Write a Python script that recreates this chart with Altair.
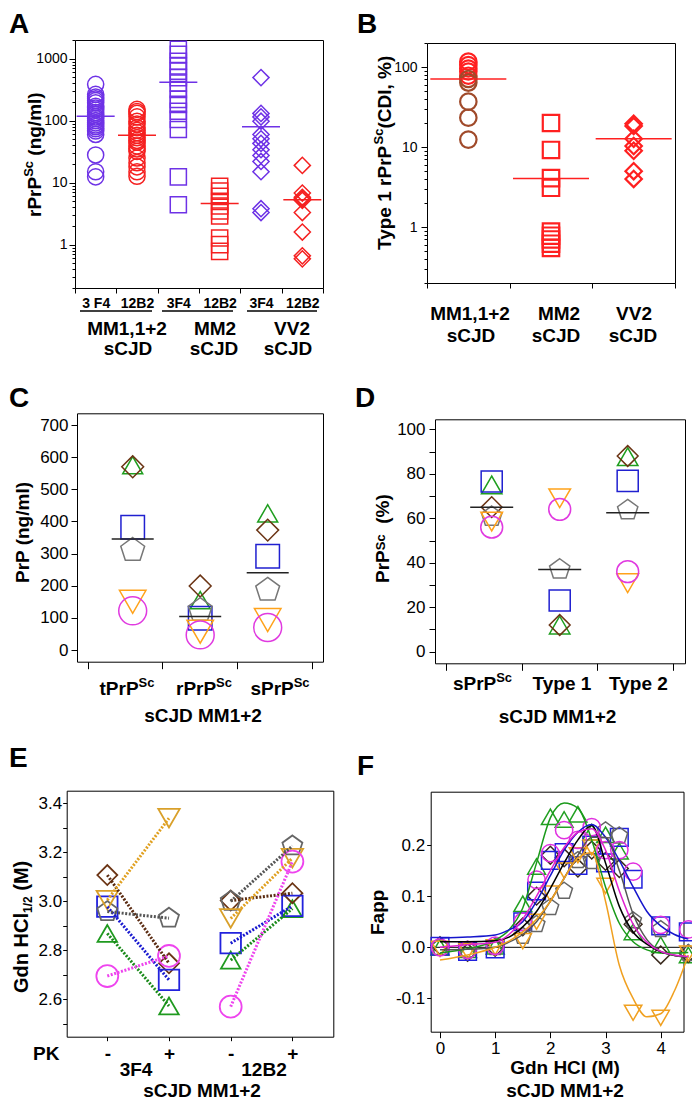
import altair as alt
import pandas as pd

# ---------------- data ----------------
# Panel A : rPrPSc (ng/ml), log scale
a_groups = ["MM1,1+2", "MM2", "VV2"]
a_antibodies = ["3F4", "12B2"]
a_tick_labels = ["3 F4", "12B2", "3F4", "12B2", "3F4", "12B2"]
a_mm1_3f4 = [385, 265, 240, 226, 210, 194, 171, 160, 148, 135, 126, 115, 108, 100, 92, 85, 80, 74, 68, 60, 28, 15, 12.4]
a_mm1_12b2 = [152, 140, 131, 115, 98, 88, 77, 70, 64, 58, 53, 48, 45, 39, 35, 32, 25, 21, 18, 15, 12.7]
a_mm2_3f4 = [1410, 1170, 910, 760, 630, 495, 405, 318, 220, 183, 142, 105, 72, 12.4, 4.4]
a_mm2_12b2 = [8.7, 7.3, 6.0, 5.0, 4.2, 3.5, 2.9, 1.28, 1.0, 0.78]
a_vv2_3f4 = [495, 131, 115, 98, 60, 51, 43, 34, 27.5, 22, 15, 3.8, 3.3]
a_vv2_12b2 = [19, 6.8, 5.8, 5.5, 5.2, 3.3, 1.6, 0.66, 0.59]
a_medians = [118, 58, 418, 4.6, 80, 5.3]

# Panel B : Type 1 rPrPSc (CDI, %), log scale
b_groups = ["MM1,1+2", "MM2", "VV2"]
b_mm1 = [117, 106, 96, 88, 78, 71, 64, 37, 23.3, 12.4]
b_mm2 = [20, 9.2, 4.1, 3.1, 0.88, 0.78, 0.7, 0.62, 0.55]
b_vv2 = [19.6, 18.3, 12.7, 10.3, 9.0, 5.0, 4.0]
b_medians = [71, 4.06, 12.7]

# six MM1+2 samples (panels C-F)
samples = ["s1", "s2", "s3", "s4", "s5", "s6"]

# Panel C : PrP (ng/ml)
c_cats = ["tPrP", "rPrP", "sPrP"]
c_t = [575, 570, 382, 311, 150, 122]
c_r = [155, 199, 99, 124, 57, 47]
c_s = [425, 373, 292, 187, 93, 70]
c_means = [345, 104, 240]

# Panel D : PrPSc (%)
d_cats = ["sPrP", "Type 1", "Type 2"]
d_s = [75, 65, 76.5, 60.7, 58.5, 56]
d_t1 = [12, 12, 23, 37, 69, 64]
d_t2 = [87.7, 88, 76.8, 63.7, 30.8, 36]
d_means = [65, 37, 62.5]

# Panel E : Gdn HCl 1/2 (M)
e_antibodies = ["3F4", "12B2"]
e_minus_3f4 = [2.869, 3.107, 2.978, 2.958, 3.005, 2.695]
e_plus_3f4 = [2.573, 2.747, 2.679, 2.931, 3.339, 2.777]
e_minus_12b2 = [2.76, 3.003, 2.829, 3.0, 2.93, 2.57]
e_plus_12b2 = [2.97, 3.033, 2.981, 3.226, 3.176, 3.162]

# Panel F : Fapp vs Gdn HCl (M)
f_x = [0, 0.5, 1, 1.5, 1.75, 2, 2.25, 2.5, 2.75, 3, 3.25, 3.5, 4, 4.5]
f_s1 = [0.0, -0.005, 0.002, 0.085, 0.158, 0.255, 0.25, 0.26, 0.225, 0.22, 0.188, 0.03, 0.005, -0.015]
f_s2 = [0.003, -0.01, 0.0, 0.04, 0.1, 0.18, 0.175, 0.155, 0.19, 0.168, 0.154, 0.045, -0.015, -0.012]
f_s3 = [0.002, -0.008, -0.003, 0.05, 0.11, 0.17, 0.185, 0.16, 0.2, 0.165, 0.215, 0.133, 0.042, 0.03]
f_s4 = [0.0, -0.005, 0.0, 0.022, 0.045, 0.078, 0.11, 0.17, 0.168, 0.228, 0.218, 0.052, 0.035, -0.012]
f_s5 = [-0.003, -0.008, 0.0, 0.012, 0.05, 0.105, 0.15, 0.18, 0.195, 0.12, None, -0.128, -0.138, -0.012]
f_s6 = [0.0, -0.005, 0.003, 0.05, 0.132, 0.184, 0.229, 0.21, 0.235, 0.19, 0.19, 0.148, 0.044, 0.035]
fc_x = [0, 0.5, 1, 1.25, 1.5, 1.75, 2, 2.25, 2.5, 2.75, 3, 3.25, 3.5, 3.75, 4, 4.25, 4.5]
fc_s1 = [-0.011, -0.003, 0.014, 0.034, 0.077, 0.165, 0.253, 0.282, 0.272, 0.21, 0.118, 0.047, 0.011, -0.005, -0.011, -0.011, -0.01]
fc_s2 = [0.011, 0.011, 0.013, 0.02, 0.04, 0.07, 0.115, 0.165, 0.21, 0.238, 0.165, 0.08, 0.03, 0.006, -0.009, -0.016, -0.019]
fc_s3 = [0.018, 0.02, 0.024, 0.034, 0.05, 0.09, 0.14, 0.19, 0.225, 0.24, 0.215, 0.17, 0.118, 0.07, 0.042, 0.025, 0.016]
fc_s4 = [-0.005, -0.004, 0.0, 0.01, 0.025, 0.05, 0.09, 0.135, 0.18, 0.215, 0.215, 0.15, 0.065, 0.015, -0.008, -0.016, -0.02]
fc_s5 = [-0.025, -0.015, 0.0, 0.012, 0.03, 0.055, 0.09, 0.135, 0.175, 0.185, 0.09, -0.035, -0.1, -0.136, -0.13, -0.085, -0.015]
fc_s6 = [0.0, 0.005, 0.01, 0.025, 0.055, 0.1, 0.15, 0.195, 0.225, 0.232, 0.19, 0.11, 0.045, 0.01, -0.008, -0.015, -0.018]

# ---------------- layout helpers ----------------
FONT = "Liberation Sans"
W, H = 684, 1093


def X(p):
    return round(p - 8, 2)


def Y(p):
    return round(p - 8, 2)


BASE_AXIS = dict(title=None, grid=False, labelFont=FONT, labelColor="black",
                 domainColor="black", tickColor="black", domainWidth=1, tickWidth=1,
                 labelFlush=False, labelOverlap=False, labelAngle=0)


def axis(orient, pos, **kw):
    if orient == "left":
        off = -X(pos)
    elif orient == "right":
        off = X(pos) - W
    elif orient == "top":
        off = -Y(pos)
    else:
        off = Y(pos) - H
    d = dict(BASE_AXIS)
    d.update(kw)
    return alt.Axis(orient=orient, offset=off, **d)


def frame(orient, pos):
    return axis(orient, pos, labels=False, ticks=False)


BOLD_W = {" ": .278, "(": .333, ")": .333, "/": .278, ",": .278, "%": .889, "+": .584, "-": .333,
          "A": .722, "B": .722, "C": .722, "D": .722, "F": .611, "G": .778, "H": .722, "I": .278,
          "J": .556, "M": .833, "P": .667, "S": .667, "T": .611, "V": .667, "a": .556, "c": .556,
          "d": .611, "e": .556, "g": .611, "l": .278, "m": .889, "n": .611, "p": .611, "r": .389,
          "s": .556, "t": .333, "y": .556}


def tw(s, size):
    return sum(BOLD_W.get(ch, .556) for ch in s) * size


def txt(s, px, py, size=19, weight="bold", align="left", angle=0):
    return alt.Chart(pd.DataFrame({"t": [s]})).mark_text(
        font=FONT, fontSize=size, fontWeight=weight, align=align, baseline="alphabetic",
        angle=angle, color="black").encode(text="t:N", x=alt.value(X(px)), y=alt.value(Y(py)))


def rich_h(pieces, cx, by):
    total = sum(tw(t, s) for t, s, _ in pieces)
    x = cx - total / 2
    out = []
    for t, s, r in pieces:
        out.append(txt(t, x, by - r, size=s))
        x += tw(t, s)
    return out


def rich_v(pieces, bx, y0):
    out = []
    y = y0
    for t, s, r in pieces:
        lead = len(t) - len(t.lstrip(" "))
        y -= lead * BOLD_W[" "] * s
        t2 = t.lstrip(" ")
        out.append(txt(t2, bx - r, y, size=s, angle=270))
        y -= tw(t2, s)
    return out


def log_minor(lo, hi):
    vals = []
    for e in range(-1, 4):
        for m in range(2, 10):
            v = round(m * 10 ** e, 4)
            if lo <= v <= hi:
                vals.append(v)
    return vals


SHAPES = ["triangle-up", "diamond", "square",
          "M0,-1L0.951,-0.309L0.588,0.809L-0.588,0.809L-0.951,-0.309Z",
          "triangle-down", "circle"]
PAL_CD = ["#1f9e1f", "#6b3414", "#2020d0", "#777777", "#ffa21a", "#e03ae0"]
PAL_E = ["#1f9a1f", "#6b3414", "#2222dd", "#666666", "#d9a02a", "#ee44ee"]
PAL_E_LINE = ["#1a8a1a", "#5a2a10", "#1a1ad0", "#555555", "#e0a020", "#ee44ee"]
PAL_F = ["#22a022", "#3a2a1e", "#2020dd", "#666666", "#f0a020", "#e030e0"]
PAL_F_CURVE = ["#1a9a1a", "#000000", "#1515cc", "#555555", "#f0a020", "#e020d0"]

layers = []

# ================= Panel A =================
A_L, A_R, A_T, A_B = 75, 323, 40, 288
a_vals = [a_mm1_3f4, a_mm1_12b2, a_mm2_3f4, a_mm2_12b2, a_vv2_3f4, a_vv2_12b2]
a_series = [(g, ab) for g in a_groups for ab in a_antibodies]
a_cats = [f"{g}|{lab}" for (g, _), lab in zip(a_series, a_tick_labels)]
a_df = pd.DataFrame([{"cat": c, "group": g, "ab": ab, "value": v}
                     for c, (g, ab), vals in zip(a_cats, a_series, a_vals) for v in vals])
a_med_df = pd.DataFrame({"cat": a_cats, "ab": [s[1] for s in a_series], "value": a_medians})
a_x = alt.Scale(type="band", domain=a_cats, range=[X(A_L), X(A_R)], paddingInner=0, paddingOuter=0)
a_y = alt.Scale(type="log", domain=[0.2, 2000], range=[Y(A_B), Y(A_T)], nice=False)
a_color = alt.Scale(domain=a_antibodies, range=["#6e32e6", "#f52020"])
a_shape = alt.Scale(domain=a_groups, range=["circle", "square", "diamond"])

layers += [
    alt.Chart(a_df).mark_point(filled=False, strokeWidth=1.5, size=260, opacity=1).encode(
        x=alt.X("cat:N", scale=a_x, axis=axis("bottom", A_B, tickBand="extent", tickSize=5,
                                               labelExpr="split(datum.value, '|')[1]", labelFontSize=14,
                                               labelFontWeight="bold", labelBaseline="alphabetic",
                                               labelPadding=14)),
        y=alt.Y("value:Q", scale=a_y, axis=axis("left", A_L, values=[1, 10, 100, 1000], format="d",
                                                 tickSize=6, labelPadding=2, labelFontSize=14)),
        color=alt.Color("ab:N", scale=a_color, legend=None),
        shape=alt.Shape("group:N", scale=a_shape, legend=None)),
    alt.Chart(a_df).mark_tick(opacity=0).encode(
        y=alt.Y("value:Q", scale=a_y, axis=axis("left", A_L, values=log_minor(0.2, 2000), labels=False,
                                                 domain=False, tickSize=3))),
    alt.Chart(a_med_df).mark_tick(orient="horizontal", size=38, thickness=1.5, opacity=1).encode(
        x=alt.X("cat:N", scale=a_x, axis=frame("top", A_T)),
        y=alt.Y("value:Q", scale=a_y, axis=frame("right", A_R)),
        color=alt.Color("ab:N", scale=a_color, legend=None)),
]
for x0, x1 in [(80, 152), (162, 233), (247, 317)]:
    layers.append(alt.Chart(pd.DataFrame({"u": [0]})).mark_rule(color="black", strokeWidth=1.5).encode(
        x=alt.value(X(x0)), x2=alt.value(X(x1)), y=alt.value(Y(311))))
for g, cx1, cx2 in zip(a_groups, [127, 215, 292], [128, 214, 288]):
    layers.append(txt(g, cx1, 335, align="center"))
    layers.append(txt("sCJD", cx2, 355, align="center"))
layers += rich_v([("rPrP", 19, 0), ("Sc", 13, 8), (" (ng/ml)", 19, 0)], 41, 217)
layers.append(txt("A", 9, 33, size=28))

# ================= Panel B =================
B_L, B_R, B_T, B_B = 427, 675, 43, 283
b_rows = []
for g, vals in zip(b_groups, [b_mm1, b_mm2, b_vv2]):
    for v in vals:
        tone = "dark" if (g == b_groups[0] and v < 75) else "bright"
        b_rows.append({"grp": g, "value": v, "tone": tone})
b_df = pd.DataFrame(b_rows)
b_med_df = pd.DataFrame({"grp": b_groups, "value": b_medians})
b_x = alt.Scale(type="band", domain=b_groups, range=[X(B_L), X(B_R)], paddingInner=0, paddingOuter=0)
b_y = alt.Scale(type="log", domain=[0.2, 200], range=[Y(B_B), Y(B_T)], nice=False)
layers += [
    alt.Chart(b_df).mark_point(filled=False, strokeWidth=2.2, size=270, opacity=1).encode(
        x=alt.X("grp:N", scale=b_x, axis=axis("bottom", B_B, tickBand="extent", tickSize=5, labels=False)),
        y=alt.Y("value:Q", scale=b_y, axis=axis("left", B_L, values=[1, 10, 100], format="d",
                                                 tickSize=6, labelPadding=4, labelFontSize=14)),
        color=alt.Color("tone:N", scale=alt.Scale(domain=["bright", "dark"], range=["#ff2020", "#a04a2a"]),
                        legend=None),
        shape=alt.Shape("grp:N", scale=alt.Scale(domain=b_groups, range=["circle", "square", "diamond"]),
                        legend=None)),
    alt.Chart(b_df).mark_tick(opacity=0).encode(
        y=alt.Y("value:Q", scale=b_y, axis=axis("left", B_L, values=log_minor(0.2, 200), labels=False,
                                                 domain=False, tickSize=3))),
    alt.Chart(b_med_df).mark_tick(orient="horizontal", size=76, thickness=1.5, opacity=1, color="#ff2020").encode(
        x=alt.X("grp:N", scale=b_x, axis=frame("top", B_T)),
        y=alt.Y("value:Q", scale=b_y, axis=frame("right", B_R))),
]
for g, cx1, cx2 in zip(b_groups, [470, 559, 634], [471, 556, 633]):
    layers.append(txt(g, cx1, 320, align="center"))
    layers.append(txt("sCJD", cx2, 342, align="center"))
layers += rich_v([("Type 1 rPrP", 19, 0), ("Sc", 13, 8), ("(CDI, %)", 19, 0)], 391, 250)
layers.append(txt("B", 357, 33, size=28))


# ================= Panels C and D (sample scatter) =================
def sample_panel(cats_vals, means, L, R, T, B, pts_px, tick_px, ydom, yvals, ylabel_expr,
                 ylabel_pad, sizes, mean_len):
    step = (pts_px[2] - pts_px[0]) / 2
    xdom = [(L - pts_px[0]) / step, (R - pts_px[0]) / step]
    xt = [round((p - pts_px[0]) / step, 4) for p in tick_px]
    xs = alt.Scale(domain=xdom, range=[X(L), X(R)], nice=False, zero=False)
    ysc = alt.Scale(domain=ydom, range=[Y(B), Y(T)], nice=False, zero=False)
    df = pd.DataFrame([{"pos": i, "sample": s, "value": v}
                       for i, vals in enumerate(cats_vals) for s, v in zip(samples, vals)])
    mdf = pd.DataFrame({"pos": list(range(len(means))), "value": means})
    yax = dict(values=yvals, tickSize=6, labelPadding=ylabel_pad, labelFontSize=17)
    if ylabel_expr:
        yax["labelExpr"] = ylabel_expr
    return [
        alt.Chart(df).mark_point(filled=False, strokeWidth=1.5, opacity=1).encode(
            x=alt.X("pos:Q", scale=xs, axis=axis("bottom", B, values=xt, labels=False, tickSize=7)),
            y=alt.Y("value:Q", scale=ysc, axis=axis("left", L, **yax)),
            color=alt.Color("sample:N", scale=alt.Scale(domain=samples, range=PAL_CD), legend=None),
            shape=alt.Shape("sample:N", scale=alt.Scale(domain=samples, range=SHAPES), legend=None),
            size=alt.Size("sample:N", scale=alt.Scale(domain=samples, range=sizes), legend=None)),
        alt.Chart(mdf).mark_tick(orient="horizontal", size=mean_len, thickness=1.5, opacity=1,
                                 color="#222222").encode(
            x=alt.X("pos:Q", scale=xs, axis=frame("top", T)),
            y=alt.Y("value:Q", scale=ysc, axis=frame("right", R))),
    ]


# Panel C
k_c = 225 / 700
layers += sample_panel([c_t, c_r, c_s], c_means, 77, 323, 413.3, 661.7,
                       [132.7, 200, 267.7], [87.7, 162.3, 237.3, 311.7],
                       [-(661.7 - 650) / k_c, (650 - 413.3) / k_c], list(range(0, 800, 100)), None, 3,
                       [400, 780, 330, 380, 400, 330], 42)
for base, cx in zip(c_cats, [127, 204, 280]):
    layers += rich_h([(base, 19, 0), ("Sc", 13, 8)], cx, 695)
layers.append(txt("sCJD MM1+2", 203, 722, align="center"))
layers += rich_v([("PrP (ng/ml)", 19, 0)], 29, 583)
layers.append(txt("C", 9, 407, size=28))

# Panel D
k_d = (651.7 - 429.3) / 100
layers += sample_panel([d_s, d_t1, d_t2], d_means, 435, 685, 419.3, 663.3,
                       [491.7, 559.3, 627.7], [446, 521.7, 597.3, 673.3],
                       [-(663.3 - 651.7) / k_d, (651.7 - 419.3) / k_d], list(range(0, 110, 10)),
                       "datum.value % 20 == 0 ? datum.label : ''", 4,
                       [420, 480, 300, 340, 400, 330], 43)
layers += rich_h([(d_cats[0], 19, 0), ("Sc", 13, 8)], 482.5, 690)
layers.append(txt(d_cats[1], 562, 690, align="center"))
layers.append(txt(d_cats[2], 638.5, 690, align="center"))
layers.append(txt("sCJD MM1+2", 557.5, 723, align="center"))
layers += rich_v([("PrP", 19, 0), ("Sc", 13, 4), ("  (%)", 19, 0)], 388.6, 583)
layers.append(txt("D", 355, 407, size=28))

# ================= Panel E =================
E_L, E_R, E_T, E_B = 66.7, 333.3, 790.7, 1036.7
e_step = 61.7
e_x = alt.Scale(domain=[(E_L - 107.3) / e_step, (E_R - 107.3) / e_step], range=[X(E_L), X(E_R)],
                nice=False, zero=False)
e_y = alt.Scale(domain=[2.6 - (E_B - 999.3) / 245, 3.4 + (803.3 - E_T) / 245], range=[Y(E_B), Y(E_T)],
                nice=False, zero=False)
e_rows = []
for ab, (p0, p1), vm, vp in zip(e_antibodies, [(0, 1), (2, 3)], [e_minus_3f4, e_minus_12b2],
                                 [e_plus_3f4, e_plus_12b2]):
    for s, a, b in zip(samples, vm, vp):
        e_rows.append({"pos": p0, "sample": s, "key": s + ab, "value": a})
        e_rows.append({"pos": p1, "sample": s, "key": s + ab, "value": b})
e_df = pd.DataFrame(e_rows)
layers += [
    alt.Chart(e_df).mark_point(filled=False, strokeWidth=1.8, opacity=1).encode(
        x=alt.X("pos:Q", scale=e_x, axis=axis("bottom", E_B, values=[0, 1, 2, 3], tickSize=4,
                                               labelExpr="datum.value % 2 == 0 ? '-' : '+'",
                                               labelFontSize=19, labelFontWeight="bold",
                                               labelBaseline="alphabetic", labelPadding=19)),
        y=alt.Y("value:Q", scale=e_y, axis=axis("left", E_L, values=[round(2.5 + 0.1 * i, 1) for i in range(10)],
                                                 tickSize=4, labelPadding=1, labelFontSize=17,
                                                 labelExpr="round(datum.value * 10) % 2 == 0 ? format(datum.value, '.1f') : ''")),
        color=alt.Color("sample:N", scale=alt.Scale(domain=samples, range=PAL_E), legend=None),
        shape=alt.Shape("sample:N", scale=alt.Scale(domain=samples, range=SHAPES), legend=None),
        size=alt.Size("sample:N", scale=alt.Scale(domain=samples, range=[380, 480, 300, 360, 400, 320]),
                      legend=None)),
    alt.Chart(e_df).mark_line(strokeDash=[2, 1.6], strokeWidth=3).encode(
        x=alt.X("pos:Q", scale=e_x, axis=frame("top", E_T)),
        y=alt.Y("value:Q", scale=e_y, axis=frame("right", E_R)),
        color=alt.Color("sample:N", scale=alt.Scale(domain=samples, range=PAL_E_LINE), legend=None),
        detail="key:N"),
]
layers.append(txt("PK", 33, 1060))
layers.append(txt(e_antibodies[0], 136, 1076, align="center"))
layers.append(txt(e_antibodies[1], 264, 1076, align="center"))
layers.append(txt("sCJD MM1+2", 202, 1097, align="center"))
layers += rich_v([("Gdn HCl", 20, 0), ("1/2", 12, -4), (" (M)", 20, 0)], 27.5, 993)
layers.append(txt("E", 9, 767, size=28))

# ================= Panel F =================
F_L, F_R, F_T, F_B = 430.7, 683.5, 791.7, 1031.7
kx = (660.7 - 440) / 4
ky = (947.3 - 845) / 0.2
f_xs = alt.Scale(domain=[(F_L - 440) / kx, (F_R - 440) / kx], range=[X(F_L), X(F_R)], nice=False, zero=False)
f_ys = alt.Scale(domain=[-(F_B - 947.3) / ky, (947.3 - F_T) / ky], range=[Y(F_B), Y(F_T)], nice=False, zero=False)
f_rows = []
for s, vals in zip(samples, [f_s1, f_s2, f_s3, f_s4, f_s5, f_s6]):
    for x, v in zip(f_x, vals):
        if v is not None:
            f_rows.append({"gdn": x, "sample": s, "value": v})
f_df = pd.DataFrame(f_rows)
fc_df = pd.DataFrame([{"gdn": x, "sample": s, "value": v}
                      for s, vals in zip(samples, [fc_s1, fc_s2, fc_s3, fc_s4, fc_s5, fc_s6])
                      for x, v in zip(fc_x, vals)])
layers += [
    alt.Chart(pd.DataFrame({"zero": [0]})).mark_rule(color="black", strokeWidth=1).encode(
        y=alt.Y("zero:Q", scale=f_ys, axis=None), x=alt.value(X(F_L)), x2=alt.value(X(F_R))),
    alt.Chart(f_df).mark_point(filled=False, strokeWidth=1.5, opacity=1).encode(
        x=alt.X("gdn:Q", scale=f_xs, axis=axis("bottom", F_B, values=[0, 1, 2, 3, 4], tickSize=6,
                                                labelFontSize=17, labelBaseline="alphabetic", labelPadding=16)),
        y=alt.Y("value:Q", scale=f_ys, axis=axis("left", F_L, values=[-0.1, 0, 0.1, 0.2], tickSize=4,
                                                  labelPadding=2, labelFontSize=17,
                                                  labelExpr="replace(format(datum.value, '.1f'), '\u2212', '-')")),
        color=alt.Color("sample:N", scale=alt.Scale(domain=samples, range=PAL_F), legend=None),
        shape=alt.Shape("sample:N", scale=alt.Scale(domain=samples, range=SHAPES), legend=None),
        size=alt.Size("sample:N", scale=alt.Scale(domain=samples, range=[320, 300, 290, 320, 320, 290]),
                      legend=None)),
    alt.Chart(fc_df).mark_line(interpolate="monotone", strokeWidth=1.5).encode(
        x=alt.X("gdn:Q", scale=f_xs, axis=frame("top", F_T)),
        y=alt.Y("value:Q", scale=f_ys, axis=frame("right", F_R)),
        color=alt.Color("sample:N", scale=alt.Scale(domain=samples, range=PAL_F_CURVE), legend=None)),
]
layers.append(txt("Gdn HCl (M)", 565, 1074, align="center"))
layers.append(txt("sCJD MM1+2", 565, 1097, align="center"))
layers += rich_v([("Fapp", 19, 0)], 383.6, 935)
layers.append(txt("F", 357, 775, size=28))

chart = alt.layer(*layers).resolve_scale(
    x="independent", y="independent", color="independent", shape="independent", size="independent"
).properties(
    width=W, height=H, padding=0, autosize=alt.AutoSizeParams(type="none")
).configure_view(stroke=None).configure_axis(grid=False)

chart.save("out.html", embed_options={"renderer": "svg", "actions": False})
